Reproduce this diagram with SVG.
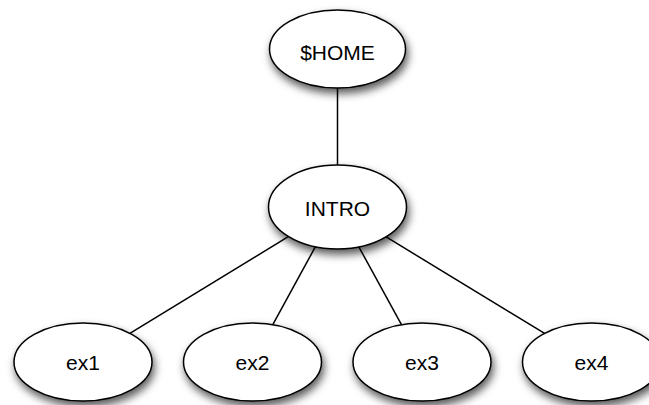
<svg xmlns="http://www.w3.org/2000/svg" width="649" height="405" viewBox="0 0 649 405">
<defs>
<filter id="sh" x="-30%" y="-30%" width="160%" height="170%">
<feDropShadow dx="2" dy="5" stdDeviation="4" flood-color="#000" flood-opacity="0.65"/>
</filter>
</defs>
<style>
.n ellipse{fill:#fff;stroke:#000;stroke-width:1.5;filter:url(#sh)}
.n text{font-family:"Liberation Sans",Arial,Helvetica,sans-serif;font-size:21px;fill:#000;text-anchor:middle}
.e line{stroke:#000;stroke-width:1.5}
</style>
<rect width="649" height="405" fill="#fff"/>
<g id="connectors" class="e">
<line x1="337.5" y1="88" x2="337.5" y2="165"/>
<line x1="288.3" y1="236.7" x2="129.9" y2="333.4"/>
<line x1="315.3" y1="246.9" x2="272.8" y2="324.7"/>
<line x1="358.8" y1="246.8" x2="401.6" y2="324.8"/>
<line x1="385.8" y1="236.7" x2="544.6" y2="333.4"/>
</g>
<g id="home" class="n"><ellipse cx="337.5" cy="49" rx="68" ry="39"/><text x="337.5" y="60">$HOME</text></g>
<g id="intro" class="n"><ellipse cx="337.5" cy="207" rx="69" ry="42"/><text x="337.5" y="216">INTRO</text></g>
<g id="ex1" class="n"><ellipse cx="83" cy="362" rx="69" ry="39"/><text x="83" y="370">ex1</text></g>
<g id="ex2" class="n"><ellipse cx="252.5" cy="362" rx="69" ry="39"/><text x="252.5" y="370">ex2</text></g>
<g id="ex3" class="n"><ellipse cx="422" cy="362" rx="69" ry="39"/><text x="422" y="370">ex3</text></g>
<g id="ex4" class="n"><ellipse cx="591.5" cy="362" rx="69" ry="39"/><text x="591.5" y="370">ex4</text></g>
</svg>
